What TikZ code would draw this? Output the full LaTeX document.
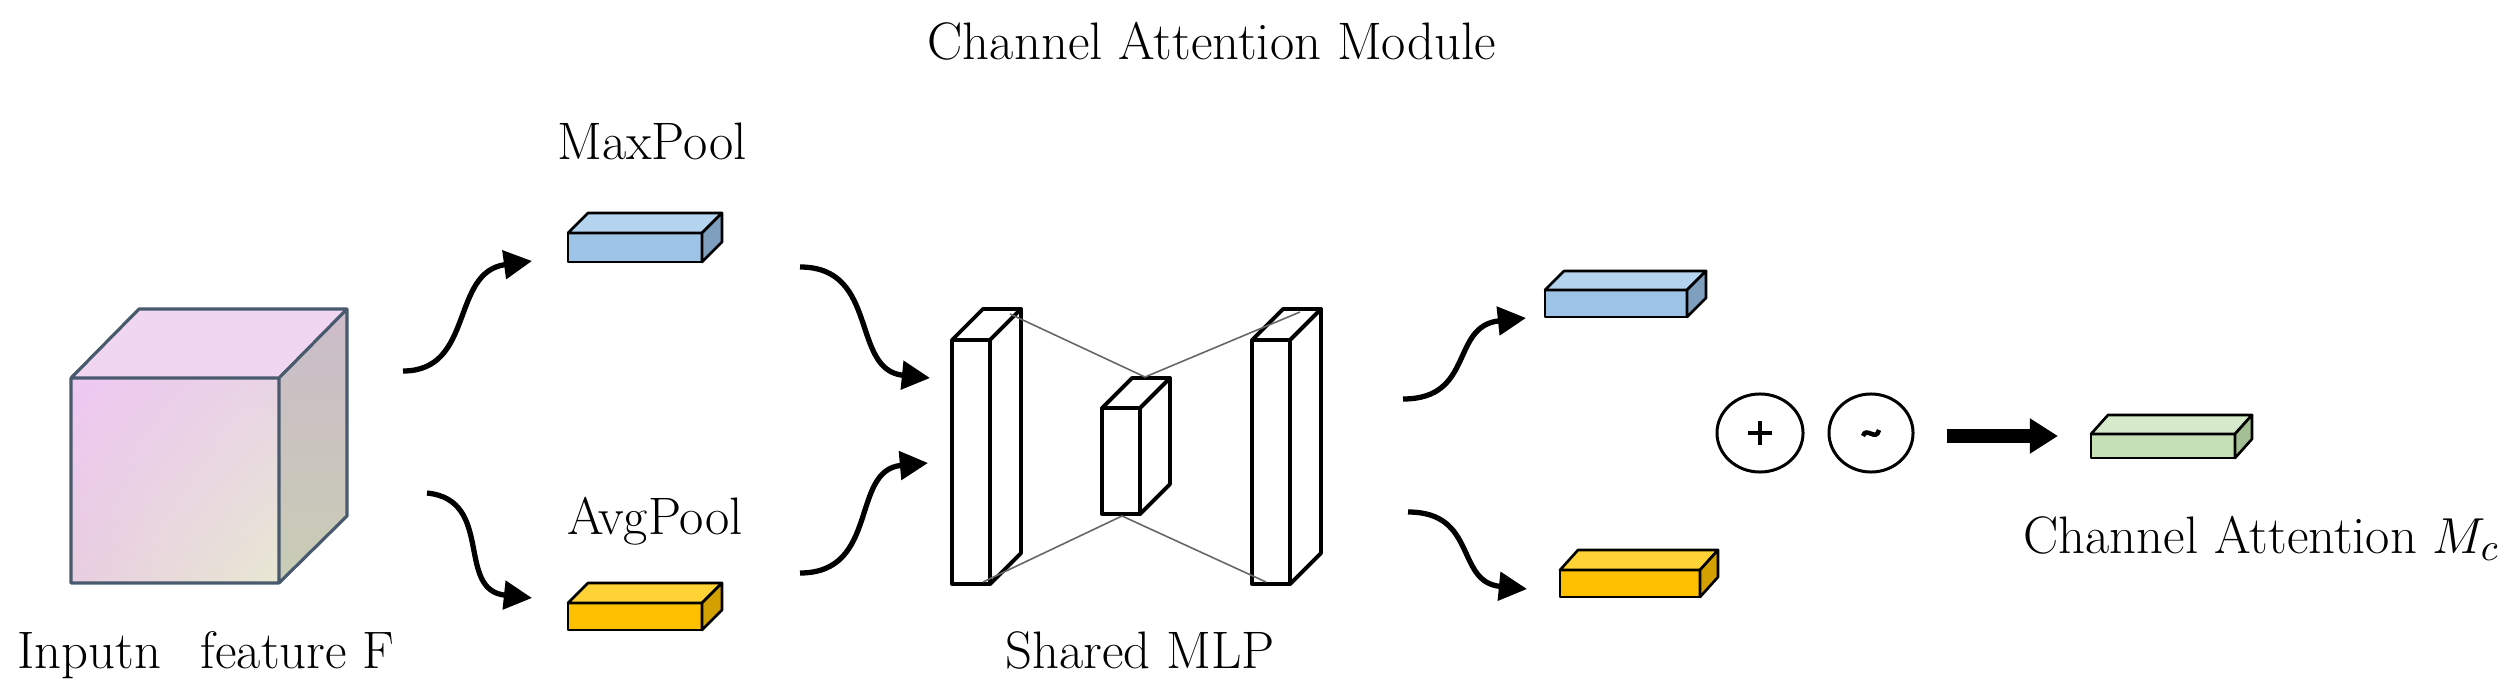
\documentclass[tikz,border=0pt]{standalone}
\usetikzlibrary{arrows.meta,shadings,shapes.geometric}
\begin{document}
\definecolor{cubeedge}{HTML}{4A5A6E}
\definecolor{bluef}{HTML}{9DC3E6}\definecolor{bluet}{HTML}{B4D3EF}\definecolor{blues}{HTML}{7F9FBF}
\definecolor{yelf}{HTML}{FFC000}\definecolor{yelt}{HTML}{FFD236}\definecolor{yels}{HTML}{D4A000}
\definecolor{grnf}{HTML}{C5E0B4}\definecolor{grnt}{HTML}{D5EACB}\definecolor{grns}{HTML}{A5BF95}
\definecolor{cfUL}{HTML}{EEC8F2}\definecolor{cfUR}{HTML}{E8D4E4}\definecolor{cfLL}{HTML}{E8CEE0}\definecolor{cfLR}{HTML}{E8E8D2}
\definecolor{ctop}{HTML}{F0D6F0}\definecolor{csT}{HTML}{CCBCCA}\definecolor{csB}{HTML}{C8CCB4}
\newcommand\flatbox[9]{% x y w h dx dy front top side
  \filldraw[fill=#7,boxline] (#1,#2) rectangle ++(#3,#4);
  \filldraw[fill=#8,boxline] (#1,#2) -- ++(#5,#6) -- ++(#3,0) -- ++(-#5,-#6) -- cycle;
  \filldraw[fill=#9,boxline] (#1+#3,#2) -- ++(#5,#6) -- ++(0,#4) -- ++(-#5,-#6) -- cycle;}
\begin{tikzpicture}[x=0.01cm,y=-0.01cm,
  boxline/.style={draw=black,line width=0.75pt,line join=round},
  layer/.style={draw=black,fill=white,line width=1.1pt,line join=round},
  conn/.style={gray!80!black,line width=0.45pt},
  flow/.style={line width=1.5pt,-{Triangle[length=8pt,width=8pt]}},
  lbl/.style={font=\fontsize{15}{18}\selectfont,inner sep=0pt}]
\useasboundingbox (0,0) rectangle (2515,691);
% cube
\shade[upper left=cfUL,upper right=cfUR,lower left=cfLL,lower right=cfLR]
  (71,378) rectangle (279,583);
\fill[ctop] (71,378) -- (139,309) -- (347,309) -- (279,378) -- cycle;
\shade[top color=csT,bottom color=csB] (279,378) -- (347,309) -- (347,516) -- (279,583) -- cycle;
\draw[cubeedge,line width=0.9pt,line join=round] (71,378) rectangle (279,583)
  (71,378) -- (139,309) -- (347,309) -- (279,378) (347,309) -- (347,516) -- (279,583);
\coordinate (cubeR) at (403,371);
\coordinate (cubeR2) at (427,493);
% pool boxes
\flatbox{568}{233}{134}{29}{20}{-20}{bluef}{bluet}{blues}
\flatbox{568}{603}{134}{27}{20}{-20}{yelf}{yelt}{yels}
\coordinate (maxIn) at (532,261);
\coordinate (avgIn) at (532,598);
\coordinate (maxOut) at (800,267);
\coordinate (avgOut) at (800,573);
\node[lbl,anchor=base] (maxl) at (652,160) {MaxPool};
\node[lbl,anchor=base] (avgl) at (655,534) {AvgPool};
\node[lbl,anchor=base] (inl) at (206,668) {Inputn\hspace{0.45em} feature F};
\node[lbl,anchor=base west] (title) at (927,60) {Channel Attention Module};
% MLP layers
\foreach \x/\yt/\yb/\d in {952/340/584/31, 1252/340/584/31, 1102/408/514/30}{
  \draw[layer] (\x,\yt) rectangle (\x+38,\yb);
  \draw[layer] (\x,\yt) -- ++(\d,-\d) -- ++(38,0) -- ++(-\d,\d) -- cycle;
  \draw[layer] (\x+38,\yt) -- ++(\d,-\d) -- (\x+38+\d,\yb-\d) -- (\x+38,\yb) -- cycle;}
\coordinate (l1t) at (1010,314); \coordinate (l1b) at (983,582);
\coordinate (mt) at (1145,377); \coordinate (mb) at (1122,516);
\coordinate (l3t) at (1300,312); \coordinate (l3b) at (1266,582);
\draw[conn] (l1t) -- (mt) -- (l3t) (l1b) -- (mb) -- (l3b);
\coordinate (mlpIn1) at (930,378); \coordinate (mlpIn2) at (928,463);
\coordinate (mlpOut1) at (1403,399); \coordinate (mlpOut2) at (1408,512);
\node[lbl,anchor=base] (mlpl) at (1140,668) {Shared MLP};
% outputs
\flatbox{1545}{290}{142}{27}{19}{-19}{bluef}{bluet}{blues}
\flatbox{1560}{570}{140}{27}{18}{-20}{yelf}{yelt}{yels}
\coordinate (o1) at (1526,318); \coordinate (o2) at (1527,589);
% flows
\draw[flow] (cubeR) .. controls (475,371) and (450,272) .. (maxIn);
\draw[flow] (cubeR2) .. controls (495,500) and (455,590) .. (avgIn);
\draw[flow] (maxOut) .. controls (880,267) and (850,370) .. (mlpIn1);
\draw[flow] (avgOut) .. controls (880,573) and (850,470) .. (mlpIn2);
\draw[flow] (mlpOut1) .. controls (1475,399) and (1450,326) .. (o1);
\draw[flow] (mlpOut2) .. controls (1478,512) and (1455,582) .. (o2);
% operators
\node[draw,ellipse,line width=0.85pt,minimum width=0.86cm,minimum height=0.78cm] (plus) at (1760,433) {};
\node[draw,ellipse,line width=0.85pt,minimum width=0.84cm,minimum height=0.78cm] (tl) at (1871,433) {};
\draw[line width=1.3pt] (1748,433) -- (1772,433) (1760,421) -- (1760,445);
\draw[line width=1.3pt] (1863,436) .. controls (1866,426) and (1876,442) .. (1879,430);
\coordinate (bigA) at (1947,436); \coordinate (bigB) at (2058,436);
\draw[line width=3.7pt,-{Triangle[length=8pt,width=9.5pt]}] (bigA) -- (bigB);
\flatbox{2091}{434}{144}{24}{17}{-19}{grnf}{grnt}{grns}
\node[lbl,anchor=base east] (outl) at (2500,553) {Channel Attention $M_c$};
\end{tikzpicture}
\end{document}
